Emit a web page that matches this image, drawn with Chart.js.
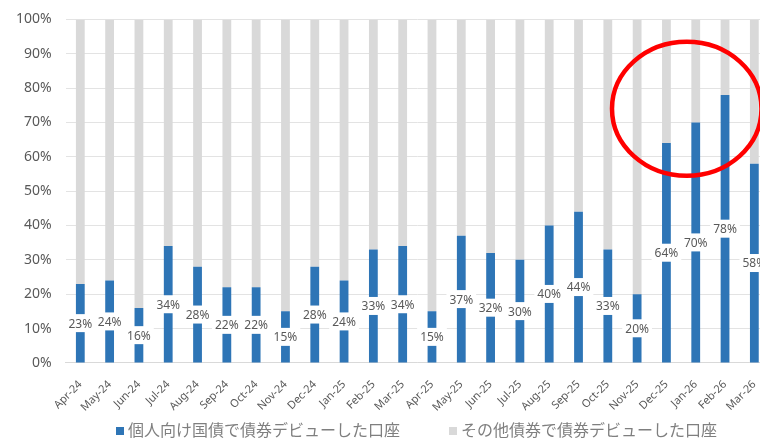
<!DOCTYPE html>
<html>
<head>
<meta charset="utf-8">
<script src="https://cdn.jsdelivr.net/npm/chart.js@4/dist/chart.umd.min.js"></script>
<style>
  html, body { margin: 0; padding: 0; background: #fff; overflow: hidden; }
  #wrap { position: relative; top: -3px; width: 840px; height: 444px; }
</style>
</head>
<body>
<div id="wrap"><canvas id="chart"></canvas></div>
<script>
// monthly share of accounts whose first bond was JGB for individuals (%)
const months = ['Apr-24', 'May-24', 'Jun-24', 'Jul-24', 'Aug-24', 'Sep-24', 'Oct-24', 'Nov-24',
  'Dec-24', 'Jan-25', 'Feb-25', 'Mar-25', 'Apr-25', 'May-25', 'Jun-25', 'Jul-25',
  'Aug-25', 'Sep-25', 'Oct-25', 'Nov-25', 'Dec-25', 'Jan-26', 'Feb-26', 'Mar-26'];
const jgbShare = [23, 24, 16, 34, 28, 22, 22, 15, 28, 24, 33, 34, 15, 37, 32, 30, 40, 44, 33, 20, 64, 70, 78, 58];
const otherShare = jgbShare.map(v => 100 - v);
const seriesNames = ['個人向け国債で債券デビューした口座', 'その他債券で債券デビューした口座'];
const seriesColors = ['#2e75b6', '#d9d9d9'];

const FONT = '"Noto Sans", "Noto Sans CJK JP", sans-serif';
const TEXT = '#595959';

// value labels on the blue bars, white box behind the text
const barLabels = {
  id: 'barLabels',
  afterDatasetsDraw(chart) {
    const ctx = chart.ctx;
    const meta = chart.getDatasetMeta(0);
    ctx.save();
    ctx.font = '12px ' + FONT;
    ctx.textAlign = 'center';
    ctx.textBaseline = 'middle';
    meta.data.forEach((bar, i) => {
      const txt = jgbShare[i] + '%';
      const y = (bar.y + bar.base) / 2;
      const w = ctx.measureText(txt).width + 6;
      ctx.fillStyle = '#fff';
      ctx.fillRect(bar.x - w / 2, y - 9, w, 18);
      ctx.fillStyle = TEXT;
      ctx.fillText(txt, bar.x, y + 1);
    });
    ctx.restore();
  }
};

// legend row under the axis: small square + name, two entries
const bottomLegend = {
  id: 'bottomLegend',
  afterDraw(chart) {
    const ctx = chart.ctx;
    const y = chart.height - 10;
    const starts = [116, 449];
    ctx.save();
    ctx.font = '16px ' + FONT;
    ctx.textBaseline = 'middle';
    seriesNames.forEach((name, i) => {
      ctx.fillStyle = seriesColors[i];
      ctx.fillRect(starts[i], y - 4, 8, 8);
      ctx.fillStyle = '#7f7f7f';
      ctx.fillText(name, starts[i] + 12, y);
    });
    ctx.restore();
  }
};

// red ring highlighting the latest months
const highlight = {
  id: 'highlight',
  afterDraw(chart) {
    const xs = chart.scales.x, ys = chart.scales.y;
    const cx = xs.getPixelForValue(21) - 9;
    const cy = ys.getPixelForValue(74);
    const rx = (xs.getPixelForValue(1) - xs.getPixelForValue(0)) * 2.55;
    const ry = ys.getPixelForValue(0) - ys.getPixelForValue(19.5);
    const ctx = chart.ctx;
    ctx.save();
    ctx.strokeStyle = '#ff0000';
    ctx.lineWidth = 4.5;
    ctx.beginPath();
    ctx.ellipse(cx, cy, rx, ry, 0, 0, Math.PI * 2);
    ctx.stroke();
    ctx.restore();
  }
};

new Chart(document.getElementById('chart'), {
  type: 'bar',
  data: {
    labels: months,
    datasets: [
      { label: seriesNames[0], data: jgbShare, backgroundColor: seriesColors[0],
        categoryPercentage: 1, barPercentage: 0.3 },
      { label: seriesNames[1], data: otherShare, backgroundColor: seriesColors[1],
        categoryPercentage: 1, barPercentage: 0.3 }
    ]
  },
  options: {
    responsive: true,
    maintainAspectRatio: false,
    animation: false,
    layout: { padding: { top: 2, right: 71, left: 2, bottom: 17 } },
    plugins: {
      legend: { display: false },
      tooltip: { enabled: false }
    },
    scales: {
      x: {
        stacked: true,
        grid: { display: false, drawTicks: true, tickLength: 5, color: '#d9d9d9', offset: true },
        border: { color: '#d9d9d9' },
        ticks: { color: TEXT, minRotation: 45, maxRotation: 45, padding: 10,
          font: { family: FONT, size: 11 } }
      },
      y: {
        stacked: true,
        min: 0, max: 100,
        grid: { color: '#e3e3e3', drawTicks: false },
        border: { display: false },
        ticks: { stepSize: 10, padding: 14, color: TEXT,
          font: { family: FONT, size: 14 }, callback: v => v + '%' }
      }
    }
  },
  plugins: [barLabels, bottomLegend, highlight]
});
</script>
</body>
</html>
